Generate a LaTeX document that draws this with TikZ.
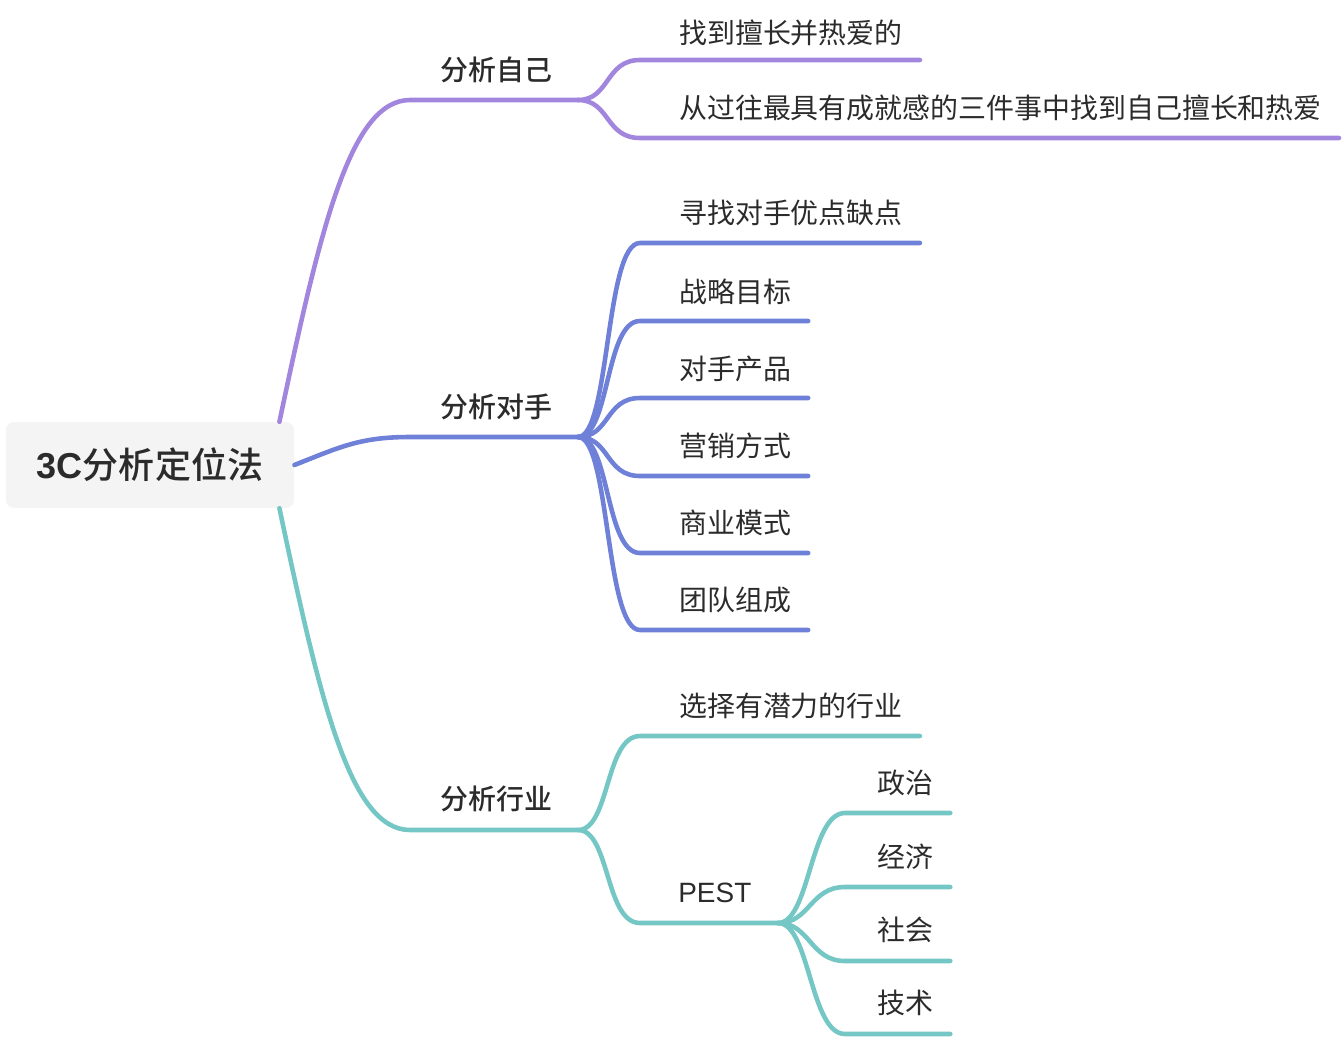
\documentclass[tikz,border=0pt]{standalone}
\usepackage{fontspec}
\setmainfont{Noto Sans CJK SC}
\newfontfamily\medfont{Noto Sans CJK SC Medium}
\newfontfamily\latinfont{Liberation Sans}
\usetikzlibrary{calc}
\definecolor{pur}{HTML}{A286DE}
\definecolor{blu}{HTML}{6F80D8}
\definecolor{tea}{HTML}{74C7C4}
\definecolor{txt}{HTML}{2B2B2B}
\definecolor{bgc}{HTML}{F4F4F4}

\begin{document}
\begin{tikzpicture}[x=0.02cm,y=-0.02cm,
 root/.style={fill=bgc,rounded corners=4.5pt,minimum width=164pt,minimum height=48.8pt,font=\medfont\fontsize{20.5}{23}\selectfont,text=txt},
 lvl/.style={anchor=west,inner xsep=0pt,font=\medfont\fontsize{15.9}{18}\selectfont,text=txt},
 leaf/.style={anchor=west,inner xsep=9.6pt,font=\fontsize{15.9}{18}\selectfont,text=txt},
 ln/.style={line width=2.6pt,line cap=round},
 sub/.style={out=0,in=180,out distance=0.64cm,in distance=0.7cm}]
\useasboundingbox (0,0) rectangle (1344,1038);
\node[root] (root) at (150,465) {{\latinfont\bfseries 3C}分析定位法};
% first level
\node[lvl] (self) at (440,70) {分析自己};
\node[lvl] (comp) at (440,407) {分析对手};
\node[lvl] (ind) at (440,799) {分析行业};
\coordinate (jA) at (578,100);
\coordinate (jB) at (578,437);
\coordinate (jC) at (578,830);
\draw[ln,pur] ($(root.north east)+(-15,0)$) .. controls (320,230) and (350,100) .. (410,100) -- (jA);
\draw[ln,blu] (root.east) .. controls (340,447) and (360,437) .. (410,437) -- (jB);
\draw[ln,tea] ($(root.south east)+(-15,0)$) .. controls (320,700) and (350,830) .. (410,830) -- (jC);
% self
\node[leaf] (a1) at (662,33) {找到擅长并热爱的};
\node[leaf] (a2) at (662,108) {从过往最具有成就感的三件事中找到自己擅长和热爱};
\draw[ln,pur] (jA) to[sub] (640,60) -- (a1.east |- 640,60);
\draw[ln,pur] (jA) to[sub] (640,138) -- (a2.east |- 640,138);
% competitor
\node[leaf] (b1) at (662,213) {寻找对手优点缺点};
\node[leaf] (b2) at (662,292) {战略目标};
\node[leaf] (b3) at (662,369) {对手产品};
\node[leaf] (b4) at (662,446) {营销方式};
\node[leaf] (b5) at (662,523) {商业模式};
\node[leaf] (b6) at (662,600) {团队组成};
\draw[ln,blu] (jB) to[sub] (640,243) -- (b1.east |- 640,243);
\draw[ln,blu] (jB) to[sub] (640,321) -- (b2.east |- 640,321);
\draw[ln,blu] (jB) to[sub] (640,398) -- (b3.east |- 640,398);
\draw[ln,blu] (jB) to[sub] (640,476) -- (b4.east |- 640,476);
\draw[ln,blu] (jB) to[sub] (640,553) -- (b5.east |- 640,553);
\draw[ln,blu] (jB) to[sub] (640,630) -- (b6.east |- 640,630);
% industry
\node[leaf] (c1) at (662,706) {选择有潜力的行业};
\node[lvl,font=\latinfont\fontsize{15.9}{18}\selectfont] (pest) at (678,893) {PEST};
\coordinate (jP) at (778,923);
\draw[ln,tea] (jC) to[sub] (640,736) -- (c1.east |- 640,736);
\draw[ln,tea] (jC) to[sub] (640,923) -- (jP);
\node[leaf] (p1) at (860,783) {政治};
\node[leaf] (p2) at (860,857) {经济};
\node[leaf] (p3) at (860,930) {社会};
\node[leaf] (p4) at (860,1003) {技术};
\draw[ln,tea] (jP) to[sub] (845,813) -- (p1.east |- 845,813);
\draw[ln,tea] (jP) to[sub] (845,887) -- (p2.east |- 845,887);
\draw[ln,tea] (jP) to[sub] (845,961) -- (p3.east |- 845,961);
\draw[ln,tea] (jP) to[sub] (845,1034) -- (p4.east |- 845,1034);
\end{tikzpicture}
\end{document}
